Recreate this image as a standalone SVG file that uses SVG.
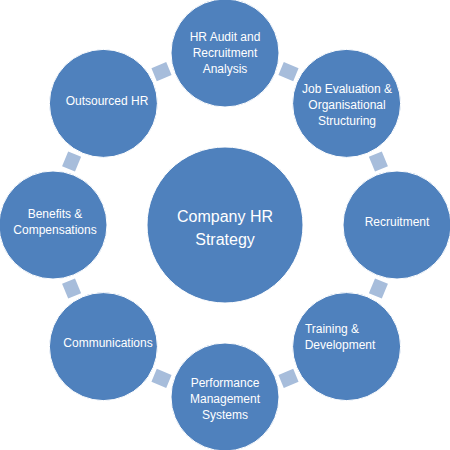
<svg xmlns="http://www.w3.org/2000/svg" width="450" height="450" viewBox="0 0 450 450">
<style>
.node{fill:#4F81BD;stroke:#ffffff;stroke-width:1}
.conn{fill:#A7BDDB}
text{font-family:"Liberation Sans",Arial,sans-serif;fill:#ffffff;text-anchor:middle}
.t{font-size:12px}
.c{font-size:16px}
</style>
<defs>
<rect id="cn" class="conn" x="-7" y="-8" width="14" height="16"/>
</defs>
<rect width="450" height="450" fill="#ffffff"/>
<g id="connectors">
<use href="#cn" transform="translate(288.5,71.6) rotate(-67.5)"/>
<use href="#cn" transform="translate(378.4,161.5) rotate(-22.5)"/>
<use href="#cn" transform="translate(378.4,288.5) rotate(22.5)"/>
<use href="#cn" transform="translate(288.5,378.4) rotate(67.5)"/>
<use href="#cn" transform="translate(161.5,378.4) rotate(112.5)"/>
<use href="#cn" transform="translate(71.6,288.5) rotate(157.5)"/>
<use href="#cn" transform="translate(71.6,161.5) rotate(-157.5)"/>
<use href="#cn" transform="translate(161.5,71.6) rotate(-112.5)"/>
</g>
<g id="center">
<circle class="node" cx="225" cy="225" r="78"/>
<text class="c" x="225" y="222">Company HR</text>
<text class="c" x="225" y="245">Strategy</text>
</g>
<g id="hr-audit">
<circle class="node" cx="225" cy="53" r="54"/>
<text class="t" x="225" y="41">HR Audit and</text>
<text class="t" x="225" y="57">Recruitment</text>
<text class="t" x="225" y="73">Analysis</text>
</g>
<g id="job-evaluation">
<circle class="node" cx="346.6" cy="103.4" r="54"/>
<text class="t" x="347" y="93">Job Evaluation &amp;</text>
<text class="t" x="347" y="109">Organisational</text>
<text class="t" x="347" y="125">Structuring</text>
</g>
<g id="recruitment">
<circle class="node" cx="397" cy="225" r="54"/>
<text class="t" x="397" y="226">Recruitment</text>
</g>
<g id="training">
<circle class="node" cx="346.6" cy="346.6" r="54"/>
<text class="t" x="332" y="333">Training &amp;</text>
<text class="t" x="340" y="349">Development</text>
</g>
<g id="performance">
<circle class="node" cx="225" cy="397" r="54"/>
<text class="t" x="225" y="387">Performance</text>
<text class="t" x="225" y="403">Management</text>
<text class="t" x="225" y="419">Systems</text>
</g>
<g id="communications">
<circle class="node" cx="103.4" cy="346.6" r="54"/>
<text class="t" x="108" y="347">Communications</text>
</g>
<g id="benefits">
<circle class="node" cx="53" cy="225" r="54"/>
<text class="t" x="55" y="218">Benefits &amp;</text>
<text class="t" x="55" y="234">Compensations</text>
</g>
<g id="outsourced">
<circle class="node" cx="103.4" cy="103.4" r="54"/>
<text class="t" x="107" y="105">Outsourced HR</text>
</g>
</svg>
